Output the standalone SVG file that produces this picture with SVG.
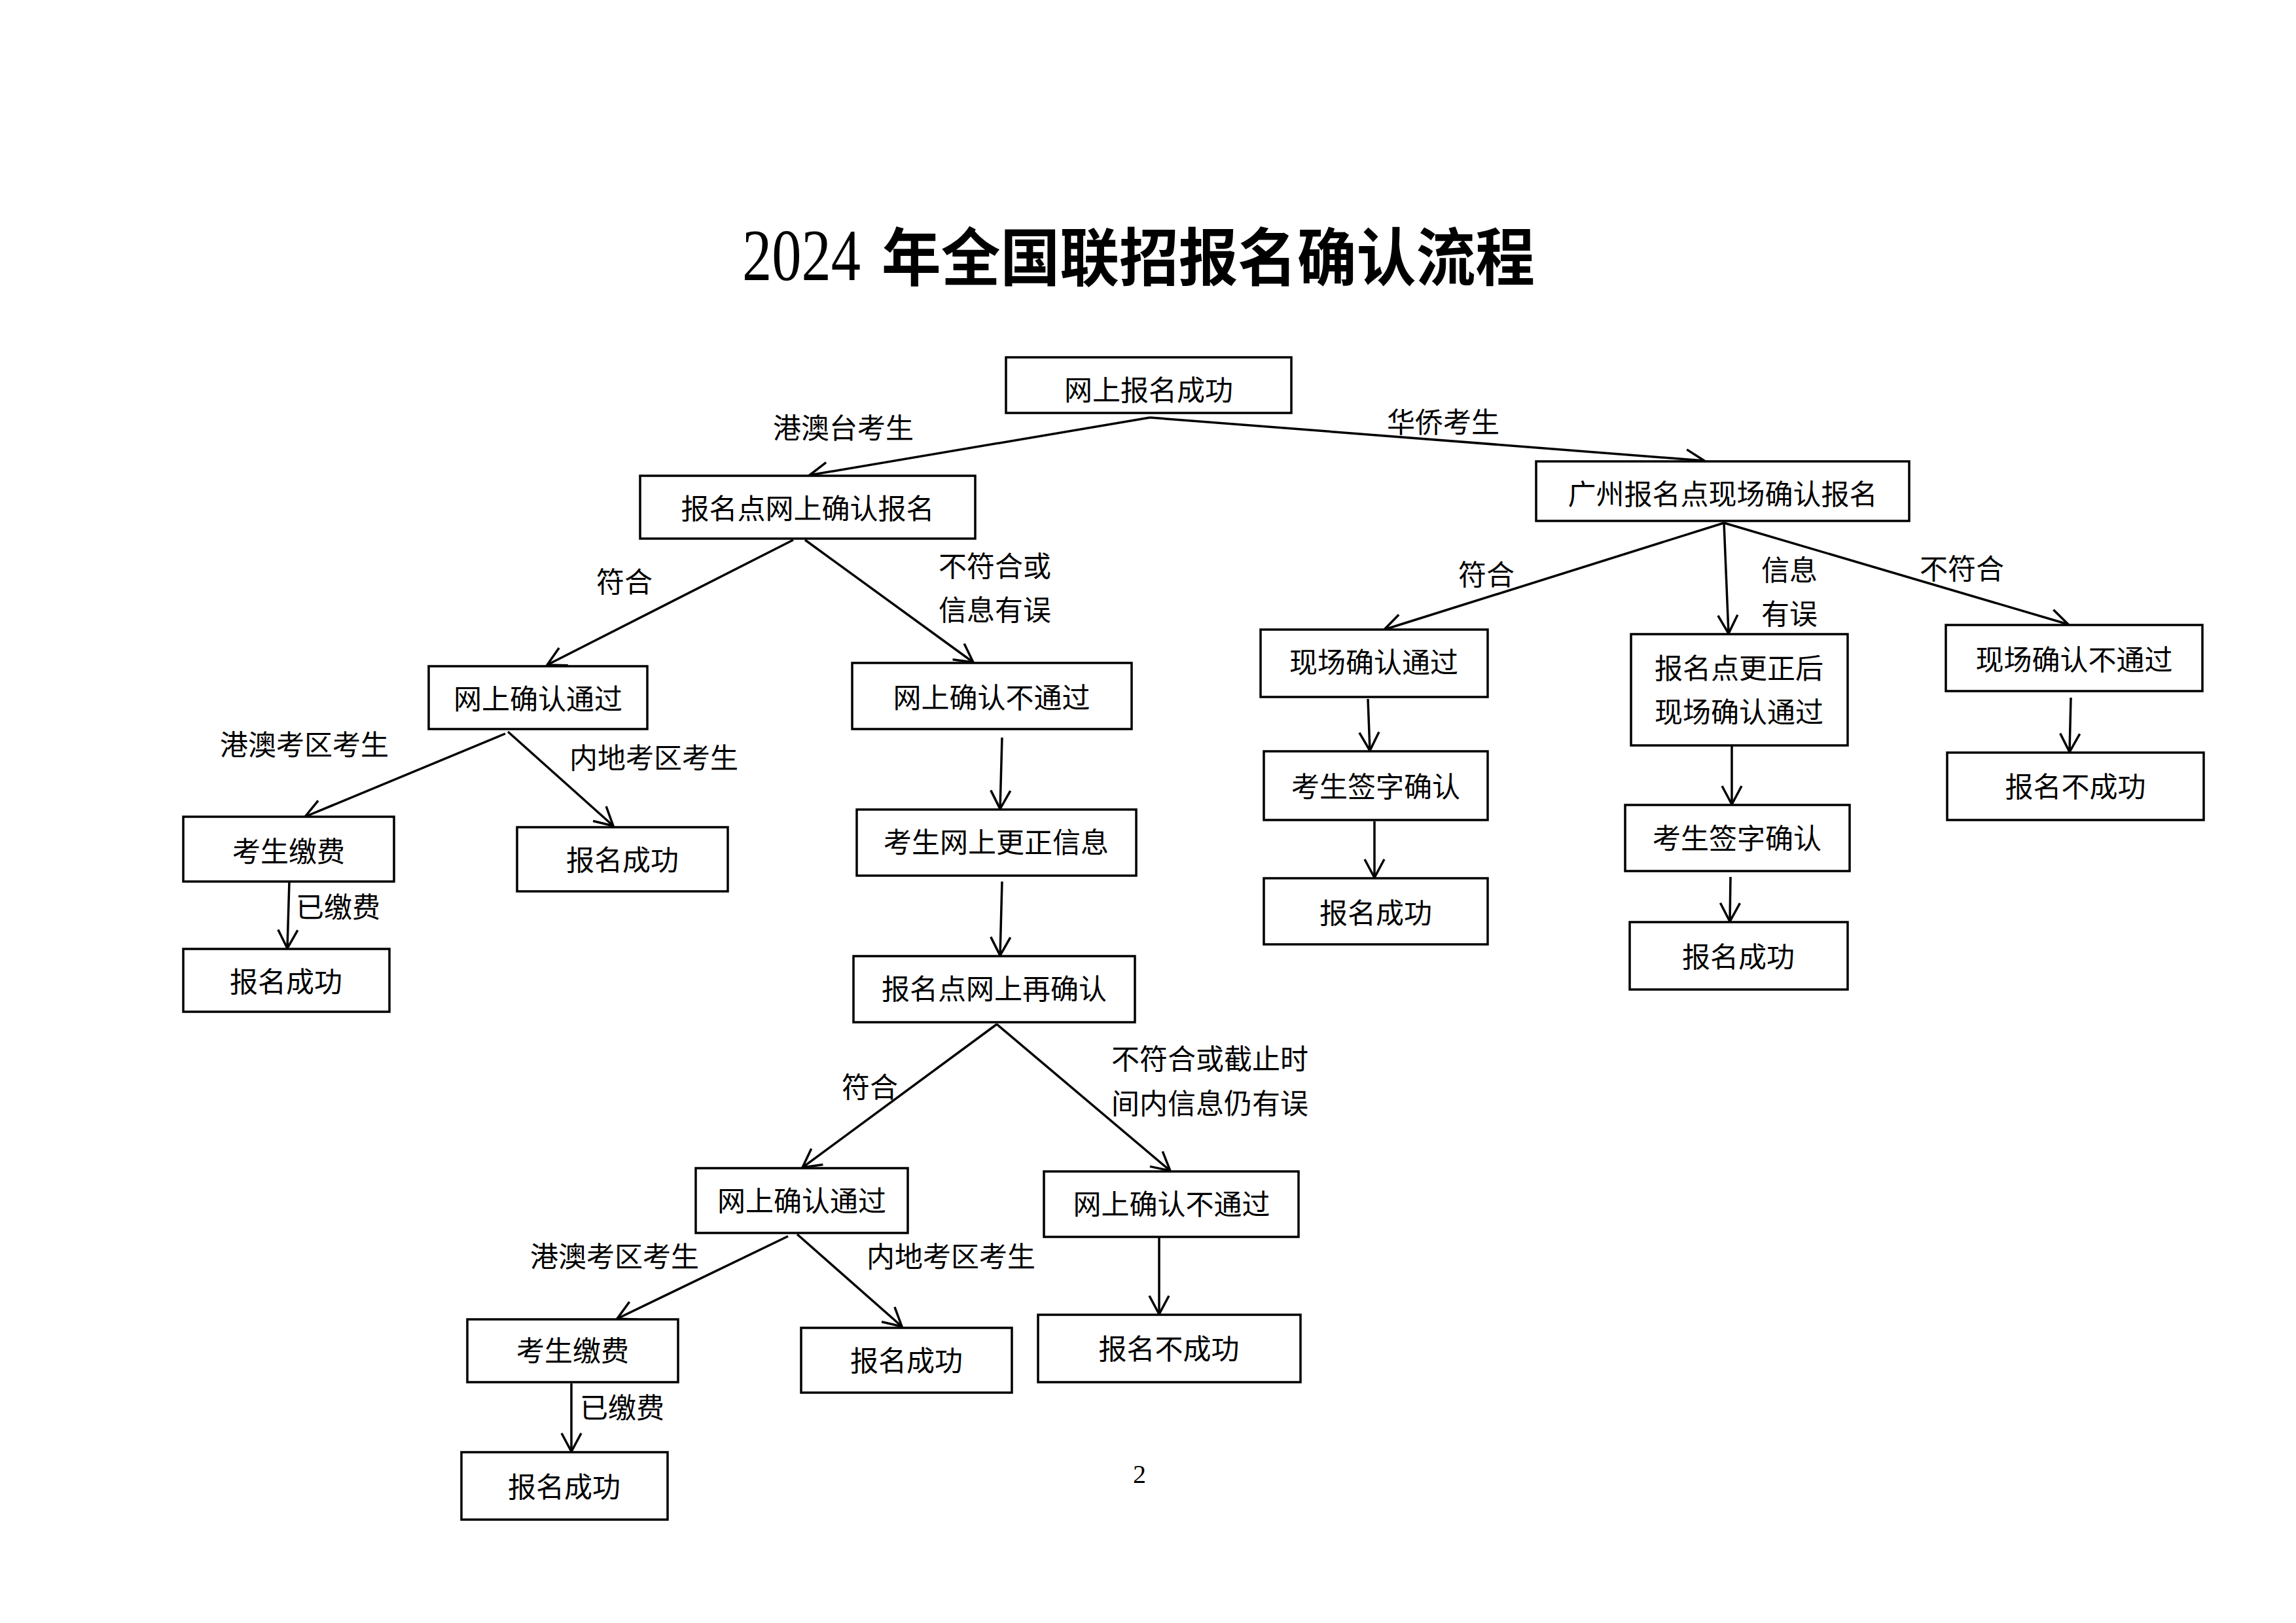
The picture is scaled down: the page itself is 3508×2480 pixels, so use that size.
<svg xmlns="http://www.w3.org/2000/svg" width="3508" height="2480" viewBox="0 0 3508 2480">
<style>
.box{fill:#fff;stroke:#000;stroke-width:3.5}
.t{font-family:"Noto Sans CJK SC","Noto Sans CJK JP",sans-serif;font-size:43px;fill:#000;text-anchor:middle}
.l{font-family:"Noto Sans CJK SC","Noto Sans CJK JP",sans-serif;font-size:43px;fill:#000}
.c{fill:none;stroke:#000;stroke-width:3.5;marker-end:url(#arr)}
</style>
<defs>
<marker id="arr" markerUnits="userSpaceOnUse" viewBox="-32 -18 36 36" refX="0" refY="0" markerWidth="36" markerHeight="36" orient="auto">
<path d="M-28,-15 L0,0 L-28,15" fill="none" stroke="#000" stroke-width="3.5"/>
</marker>
</defs>
<rect width="3508" height="2480" fill="#fff"/>
<text id="title" y="428" fill="#000"><tspan x="1134" font-family="Liberation Serif, serif" font-size="112" textLength="181" lengthAdjust="spacingAndGlyphs">2024</tspan> <tspan x="1347" font-family="Noto Sans CJK SC, sans-serif" font-weight="bold" font-size="96" textLength="998" lengthAdjust="spacingAndGlyphs">年全国联招报名确认流程</tspan></text>

<g id="connectors">
<line class="c" x1="1757" y1="638" x2="1237" y2="726"/>
<line class="c" x1="1757" y1="638" x2="2604" y2="704"/>
<line class="c" x1="1212" y1="825" x2="836" y2="1016"/>
<line class="c" x1="1230" y1="825" x2="1487" y2="1012"/>
<line class="c" x1="772" y1="1121" x2="466" y2="1248"/>
<line class="c" x1="776" y1="1118" x2="937" y2="1262"/>
<line class="c" x1="442" y1="1347" x2="439" y2="1449"/>
<line class="c" x1="1531" y1="1127" x2="1528" y2="1236"/>
<line class="c" x1="1531" y1="1347" x2="1528" y2="1460"/>
<line class="c" x1="1523" y1="1565" x2="1226" y2="1784"/>
<line class="c" x1="1523" y1="1565" x2="1788" y2="1789"/>
<line class="c" x1="1204" y1="1889" x2="943" y2="2015"/>
<line class="c" x1="1218" y1="1886" x2="1378" y2="2027"/>
<line class="c" x1="873" y1="2114" x2="873" y2="2218"/>
<line class="c" x1="1771" y1="1890" x2="1771" y2="2008"/>
<line class="c" x1="2634" y1="799" x2="2115" y2="962"/>
<line class="c" x1="2634" y1="799" x2="2641" y2="968"/>
<line class="c" x1="2634" y1="799" x2="3160" y2="954"/>
<line class="c" x1="2090" y1="1068" x2="2093" y2="1147"/>
<line class="c" x1="2100" y1="1255" x2="2100" y2="1341"/>
<line class="c" x1="2646" y1="1139" x2="2646" y2="1229"/>
<line class="c" x1="2644" y1="1340" x2="2643" y2="1408"/>
<line class="c" x1="3164" y1="1066" x2="3162" y2="1149"/>
</g>

<g id="labels">
<text class="l" x="1181" y="670">港澳台考生</text>
<text class="l" x="2119" y="661">华侨考生</text>
<text class="l" x="911" y="905">符合</text>
<text class="l" x="1434" y="881">不符合或</text>
<text class="l" x="1434" y="948">信息有误</text>
<text class="l" x="336" y="1154">港澳考区考生</text>
<text class="l" x="870" y="1174">内地考区考生</text>
<text class="l" x="452" y="1402">已缴费</text>
<text class="l" x="2228" y="894">符合</text>
<text class="l" x="2691" y="887">信息</text>
<text class="l" x="2691" y="954">有误</text>
<text class="l" x="2933" y="885">不符合</text>
<text class="l" x="1286" y="1677">符合</text>
<text class="l" x="1698" y="1634">不符合或截止时</text>
<text class="l" x="1698" y="1702">间内信息仍有误</text>
<text class="l" x="810" y="1936">港澳考区考生</text>
<text class="l" x="1324" y="1936">内地考区考生</text>
<text class="l" x="886" y="2167">已缴费</text>
</g>

<g id="n1"><rect class="box" x="1537" y="546" width="436" height="85"/><text class="t" x="1755" y="612">网上报名成功</text></g>
<g id="n2"><rect class="box" x="978" y="727" width="512" height="96"/><text class="t" x="1234" y="793">报名点网上确认报名</text></g>
<g id="n3"><rect class="box" x="2347" y="705" width="570" height="91"/><text class="t" x="2632" y="771">广州报名点现场确认报名</text></g>
<g id="n4"><rect class="box" x="655" y="1018" width="334" height="96"/><text class="t" x="822" y="1084">网上确认通过</text></g>
<g id="n5"><rect class="box" x="1302" y="1013" width="427" height="101"/><text class="t" x="1515" y="1082">网上确认不通过</text></g>
<g id="n6"><rect class="box" x="280" y="1248" width="322" height="99"/><text class="t" x="441" y="1317">考生缴费</text></g>
<g id="n7"><rect class="box" x="790" y="1264" width="322" height="98"/><text class="t" x="951" y="1330">报名成功</text></g>
<g id="n8"><rect class="box" x="280" y="1450" width="315" height="96"/><text class="t" x="437" y="1516">报名成功</text></g>
<g id="n9"><rect class="box" x="1309" y="1237" width="427" height="101"/><text class="t" x="1522" y="1303">考生网上更正信息</text></g>
<g id="n10"><rect class="box" x="1304" y="1461" width="430" height="101"/><text class="t" x="1519" y="1527">报名点网上再确认</text></g>
<g id="n11"><rect class="box" x="1063" y="1785" width="324" height="99"/><text class="t" x="1225" y="1851">网上确认通过</text></g>
<g id="n12"><rect class="box" x="1595" y="1790" width="389" height="100"/><text class="t" x="1790" y="1856">网上确认不通过</text></g>
<g id="n13"><rect class="box" x="714" y="2016" width="322" height="96"/><text class="t" x="875" y="2080">考生缴费</text></g>
<g id="n14"><rect class="box" x="1224" y="2029" width="322" height="99"/><text class="t" x="1385" y="2095">报名成功</text></g>
<g id="n15"><rect class="box" x="1586" y="2009" width="401" height="103"/><text class="t" x="1786" y="2077">报名不成功</text></g>
<g id="n16"><rect class="box" x="705" y="2219" width="315" height="103"/><text class="t" x="862" y="2288">报名成功</text></g>
<g id="n17"><rect class="box" x="1926" y="962" width="347" height="103"/><text class="t" x="2099" y="1028">现场确认通过</text></g>
<g id="n18"><rect class="box" x="1931" y="1148" width="342" height="105"/><text class="t" x="2102" y="1218">考生签字确认</text></g>
<g id="n19"><rect class="box" x="1931" y="1342" width="342" height="101"/><text class="t" x="2102" y="1411">报名成功</text></g>
<g id="n20"><rect class="box" x="2492" y="969" width="331" height="170"/><text class="t" x="2657" y="1037">报名点更正后</text><text class="t" x="2657" y="1104">现场确认通过</text></g>
<g id="n21"><rect class="box" x="2483" y="1230" width="343" height="101"/><text class="t" x="2654" y="1297">考生签字确认</text></g>
<g id="n22"><rect class="box" x="2490" y="1409" width="333" height="103"/><text class="t" x="2656" y="1478">报名成功</text></g>
<g id="n23"><rect class="box" x="2973" y="955" width="392" height="101"/><text class="t" x="3169" y="1024">现场确认不通过</text></g>
<g id="n24"><rect class="box" x="2975" y="1150" width="392" height="103"/><text class="t" x="3171" y="1218">报名不成功</text></g>

<text id="page" x="1741" y="2266" font-family="Liberation Serif, serif" font-size="40" text-anchor="middle" fill="#000">2</text>
</svg>
